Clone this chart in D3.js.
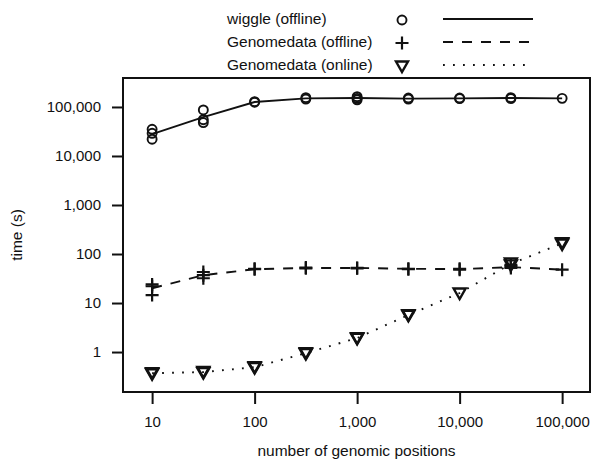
<!DOCTYPE html>
<html>
<head>
<meta charset="utf-8">
<script src="https://cdn.jsdelivr.net/npm/d3@7"></script>
<style>
  body { margin: 0; background: #fff; }
  svg text { font-family: "Liberation Sans", Arial, sans-serif; fill: #111; }
</style>
</head>
<body>
<svg class="target" width="598" height="464"></svg>
<script>
// genomic positions (x) for every measurement group
const positions = [10, 31.6, 100, 316, 1000, 3162, 10000, 31623, 100000];

// wiggle (offline): replicate times and the line through them
const wigglePoints = [
  [22000, 29000, 35000],
  [48000, 55000, 87000],
  [125000, 128000],
  [145000, 155000],
  [140000, 150000, 162000],
  [145000, 152000],
  [148000, 152000],
  [148000, 155000],
  [150000]
];
const wiggleLine = [28000, 62000, 126000, 150000, 152000, 148000, 150000, 152000, 150000];

// Genomedata (offline)
const offlinePoints = [
  [14.5, 22, 24],
  [32, 37, 43],
  [49, 50],
  [51, 53],
  [51, 52],
  [49, 50],
  [48, 50],
  [52, 56, 60],
  [48]
];
const offlineLine = [20, 37, 49, 52, 52, 50, 49, 54, 48];

// Genomedata (online)
const onlinePoints = [
  [0.36, 0.38],
  [0.38, 0.40],
  [0.48, 0.50],
  [0.93, 0.97],
  [1.9, 1.95],
  [5.6, 5.8],
  [16],
  [60, 66],
  [160, 170]
];
const onlineLine = [0.37, 0.39, 0.49, 0.95, 1.93, 5.7, 16, 63, 165];

const xTicks = [10, 100, 1000, 10000, 100000];
const yTicks = [1, 10, 100, 1000, 10000, 100000];
const legendLabels = ["wiggle (offline)", "Genomedata (offline)", "Genomedata (online)"];

const svg = d3.select(".target");
const mLeft = 123, mRight = 590, mTop = 78, mBottom = 392;

const x = d3.scaleLog().domain([5.2, 187000]).range([mLeft, mRight]);
const y = d3.scaleLog().domain([0.153, 390000]).range([mBottom, mTop]);
const fmt = d3.format(",");

// frame
svg.append("rect")
  .attr("x", mLeft).attr("y", mTop)
  .attr("width", mRight - mLeft).attr("height", mBottom - mTop)
  .attr("fill", "none").attr("stroke", "#111").attr("stroke-width", 2);

const xAxis = svg.append("g")
  .attr("transform", `translate(0, ${mBottom})`)
  .call(d3.axisBottom(x).tickValues(xTicks).tickFormat(fmt).tickSize(12).tickPadding(12));
const yAxis = svg.append("g")
  .attr("transform", `translate(${mLeft}, 0)`)
  .call(d3.axisLeft(y).tickValues(yTicks).tickFormat(fmt).tickSize(11).tickPadding(11));

[xAxis, yAxis].forEach(g => {
  g.select(".domain").remove();
  g.selectAll(".tick line").attr("stroke", "#111").attr("stroke-width", 2);
  g.selectAll(".tick text").attr("font-size", 15).attr("fill", "#111");
});

svg.append("text")
  .attr("x", (mLeft + mRight) / 2).attr("y", 456)
  .attr("text-anchor", "middle").attr("font-size", 15.5)
  .text("number of genomic positions");
svg.append("text")
  .attr("transform", `translate(22, ${(mTop + mBottom) / 2}) rotate(-90)`)
  .attr("text-anchor", "middle").attr("font-size", 15.5)
  .text("time (s)");

// marker shapes
function circle(g) {
  g.append("circle").attr("r", 4.5).attr("fill", "none").attr("stroke", "#111").attr("stroke-width", 1.9);
}
function plus(g) {
  g.append("path").attr("d", "M-6.5,0H6.5M0,-6.5V6.5").attr("stroke", "#111").attr("stroke-width", 2.2);
}
function tri(g) {
  g.append("path").attr("d", "M-6,-4.5H6L0,6Z").attr("fill", "none").attr("stroke", "#111").attr("stroke-width", 2.4);
}

const series = [
  { points: wigglePoints, line: wiggleLine, dash: null, marker: circle },
  { points: offlinePoints, line: offlineLine, dash: "10,9", marker: plus },
  { points: onlinePoints, line: onlineLine, dash: "1.8,8.2", marker: tri }
];

const lineGen = d3.line().x(d => x(d[0])).y(d => y(d[1]));

series.forEach(s => {
  svg.append("path")
    .datum(positions.map((p, i) => [p, s.line[i]]))
    .attr("d", lineGen)
    .attr("fill", "none").attr("stroke", "#111").attr("stroke-width", 1.9)
    .attr("stroke-dasharray", s.dash);

  const flat = [];
  positions.forEach((p, i) => s.points[i].forEach(v => flat.push([p, v])));
  svg.append("g").selectAll("g")
    .data(flat)
    .enter()
    .append("g")
    .attr("transform", d => `translate(${x(d[0])}, ${y(d[1])})`)
    .each(function () { s.marker(d3.select(this)); });
});

// legend
const legend = svg.append("g");
const legendY = [19, 42, 65];
series.forEach((s, i) => {
  legend.append("text")
    .attr("x", 227).attr("y", legendY[i]).attr("dy", "0.35em")
    .attr("font-size", 15.5)
    .text(legendLabels[i]);
  const m = legend.append("g").attr("transform", `translate(402, ${legendY[i] + 1})`);
  s.marker(m);
  legend.append("line")
    .attr("x1", 443).attr("x2", 533)
    .attr("y1", legendY[i]).attr("y2", legendY[i])
    .attr("stroke", "#111").attr("stroke-width", 1.9)
    .attr("stroke-dasharray", s.dash);
});
</script>
</body>
</html>
